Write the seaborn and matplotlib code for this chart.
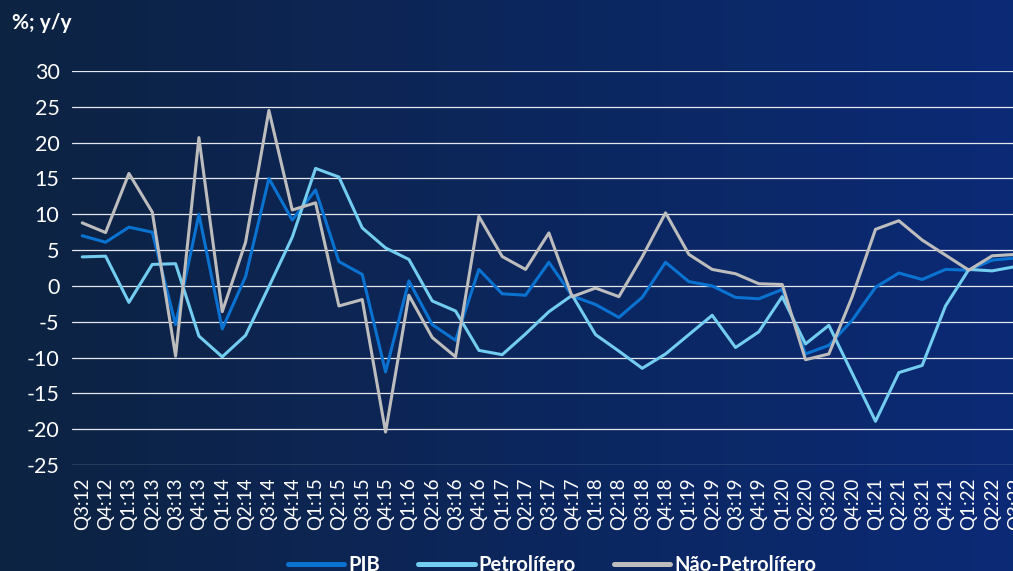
import numpy as np
import pandas as pd
import matplotlib
matplotlib.use("Agg")
import matplotlib.pyplot as plt
import seaborn as sns
from matplotlib.colors import LinearSegmentedColormap

quarters = ["Q3:12", "Q4:12",
            "Q1:13", "Q2:13", "Q3:13", "Q4:13",
            "Q1:14", "Q2:14", "Q3:14", "Q4:14",
            "Q1:15", "Q2:15", "Q3:15", "Q4:15",
            "Q1:16", "Q2:16", "Q3:16", "Q4:16",
            "Q1:17", "Q2:17", "Q3:17", "Q4:17",
            "Q1:18", "Q2:18", "Q3:18", "Q4:18",
            "Q1:19", "Q2:19", "Q3:19", "Q4:19",
            "Q1:20", "Q2:20", "Q3:20", "Q4:20",
            "Q1:21", "Q2:21", "Q3:21", "Q4:21",
            "Q1:22", "Q2:22", "Q3:22"]

pib = [7.0, 6.1, 8.2, 7.5, -5.4, 10.0, -6.0, 1.3, 15.0, 9.2,
       13.4, 3.4, 1.6, -12.0, 0.7, -5.4, -7.6, 2.3, -1.1, -1.3,
       3.3, -1.4, -2.6, -4.4, -1.6, 3.3, 0.6, 0.0, -1.6, -1.8,
       -0.5, -9.5, -8.3, -4.8, -0.2, 1.8, 0.9, 2.3, 2.2, 3.6, 3.9]

petrol = [4.05, 4.15, -2.3, 3.0, 3.1, -7.0, -9.9, -6.9, -0.1, 6.8,
          16.4, 15.2, 8.1, 5.3, 3.7, -2.1, -3.5, -9.0, -9.6, -6.7,
          -3.6, -1.3, -6.8, -9.1, -11.5, -9.5, -6.8, -4.1, -8.6, -6.4,
          -1.5, -8.1, -5.5, -12.2, -18.9, -12.1, -11.1, -2.8, 2.3, 2.1, 2.7]

nao_petrol = [8.8, 7.45, 15.7, 10.3, -9.8, 20.7, -3.6, 6.1, 24.5, 10.6,
              11.6, -2.8, -1.9, -20.4, -1.3, -7.2, -9.9, 9.7, 4.1, 2.3,
              7.4, -1.5, -0.3, -1.5, 4.05, 10.2, 4.4, 2.3, 1.7, 0.3,
              0.2, -10.3, -9.5, -1.5, 7.9, 9.1, 6.4, 4.3, 2.2, 4.2, 4.4]

series_names = ["PIB", "Petrolífero", "Não-Petrolífero"]
y_ticks = [30, 25, 20, 15, 10, 5, 0, -5, -10, -15, -20, -25]

n = len(quarters)
df = pd.DataFrame({
    "idx": list(range(n)) * 3,
    "value": pib + petrol + nao_petrol,
    "serie": [series_names[0]] * n + [series_names[1]] * n + [series_names[2]] * n,
})

palette = {"PIB": "#0a73d2", "Petrolífero": "#72cdf0", "Não-Petrolífero": "#bdbdbd"}

sns.set_theme(style="white")
plt.rcParams["font.family"] = ["Lato", "DejaVu Sans"]

W, H = 1013, 571
fig = plt.figure(figsize=(W / 100, H / 100), dpi=100)

# gradient background
bg = fig.add_axes([0, 0, 1, 1], zorder=-10)
cmap = LinearSegmentedColormap.from_list("bg", ["#0d2342", "#0b2a76"])
bg.imshow(np.linspace(0, 1, 256).reshape(1, -1), aspect="auto", cmap=cmap,
          extent=[0, 1, 0, 1])
bg.set_axis_off()

left = 72 / W
right_px = 82.3 + 23.33 * 40.4
ax = fig.add_axes([left, 1 - 465 / H, (right_px - 72) / W, (465 - 71) / H])
ax.set_facecolor("none")

sns.lineplot(data=df, x="idx", y="value", hue="serie", palette=palette,
             hue_order=series_names, sort=False, linewidth=2.2, ax=ax,
             legend=True, zorder=3)

ax.set_xlim(-0.44, 40.4)
ax.set_ylim(-25, 30)
ax.set_yticks(y_ticks)
ax.set_yticklabels([str(v) for v in y_ticks], fontsize=15.5, color="white",
                   fontweight="normal")
ax.set_xticks(range(n))
ax.set_xticklabels(quarters, rotation=90, fontsize=13.5, color="white",
                   fontweight="normal")
ax.tick_params(axis="y", length=0, pad=9)
ax.tick_params(axis="x", length=0, pad=9)
ax.set_xlabel("")
ax.set_ylabel("")
for s in ax.spines.values():
    s.set_visible(False)
ax.yaxis.grid(True, color="#e4e7ee", linewidth=0.9, zorder=1)
ax.xaxis.grid(False)
ax.set_axisbelow(True)

handles, labels = ax.get_legend_handles_labels()
ax.get_legend().remove()
leg = fig.legend(handles, labels, loc="center", bbox_to_anchor=(0.545, 0.011),
                 ncol=3, frameon=False, handlelength=2.8,
                 handletextpad=0.2, columnspacing=1.9,
                 prop={"weight": "bold", "size": 14.5})
for t in leg.get_texts():
    t.set_color("white")
for h in leg.legend_handles:
    h.set_linewidth(3.6)

fig.text(12 / W, 1 - 23 / H, "%; y/y", color="white", fontsize=15,
         fontweight="bold", ha="left", va="center")

fig.savefig("out.png", dpi=100)
